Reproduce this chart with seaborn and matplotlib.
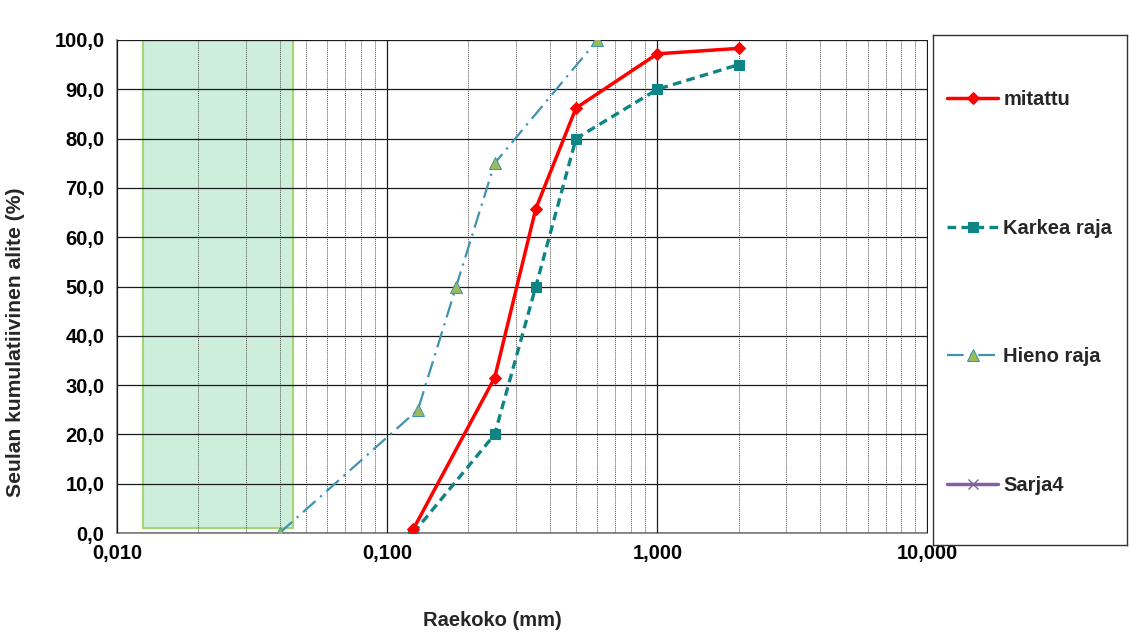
import numpy as np
import pandas as pd
import seaborn as sns
import matplotlib
matplotlib.use("Agg")
from matplotlib import pyplot as plt
from matplotlib.patches import Rectangle
from matplotlib.ticker import FixedLocator, LogLocator, NullFormatter

# data
mitattu_x = [0.125, 0.25, 0.355, 0.5, 1.0, 2.0]
mitattu_y = [0.8, 31.5, 65.8, 86.2, 97.2, 98.3]

karkea_x = [0.125, 0.25, 0.355, 0.5, 1.0, 2.0]
karkea_y = [0.0, 20.0, 50.0, 80.0, 90.0, 95.0]

hieno_x = [0.04, 0.13, 0.18, 0.25, 0.6]
hieno_y = [0.0, 25.0, 50.0, 75.0, 100.0]

labels = ["mitattu", "Karkea raja", "Hieno raja", "Sarja4"]
x_ticks = [0.01, 0.1, 1, 10]
y_ticks = [0, 10, 20, 30, 40, 50, 60, 70, 80, 90, 100]

# shaded zone
zone_x = [0.0125, 0.045]
zone_y = [1.0, 100.0]

FS = 14.5

sns.set_style("white")
plt.rcParams["font.family"] = ["Liberation Sans", "DejaVu Sans"]
plt.rcParams["font.weight"] = "bold"

fig = plt.figure(figsize=(11.31, 6.37), dpi=100)
ax = fig.add_axes([117 / 1131, 1 - 533 / 637, (927.5 - 117) / 1131, (533 - 40) / 637])

ax.add_patch(Rectangle((zone_x[0], zone_y[0]), zone_x[1] - zone_x[0], zone_y[1] - zone_y[0],
                       facecolor="#CDEEDB", edgecolor="#A3D772", lw=1.5, zorder=1))

df_m = pd.DataFrame({"x": mitattu_x, "y": mitattu_y})
df_k = pd.DataFrame({"x": karkea_x, "y": karkea_y})
df_h = pd.DataFrame({"x": hieno_x, "y": hieno_y})

sns.lineplot(data=df_m, x="x", y="y", ax=ax, sort=False, color="#FF0000", lw=2.5,
             marker="D", markersize=6.5, markeredgecolor="#FF0000", label=labels[0], zorder=5)
sns.lineplot(data=df_k, x="x", y="y", ax=ax, sort=False, color="#0E8585", lw=2.4,
             linestyle=(0, (2.6, 1.6)), marker="s", markersize=6.5,
             markeredgecolor="#0E8585", label=labels[1], zorder=4)
sns.lineplot(data=df_h, x="x", y="y", ax=ax, sort=False, color="#3F93AE", lw=1.6,
             linestyle=(0, (7.5, 2.8, 1, 2.8)), marker="^", markersize=8,
             markerfacecolor="#9BBB59", markeredgecolor="#3F93AE", label=labels[2], zorder=3)
ax.plot([], [], color="#8064A2", lw=2.5, marker="x", markersize=7, label=labels[3])

handles, labs = ax.get_legend_handles_labels()
if ax.get_legend() is not None:
    ax.get_legend().remove()

ax.set_xscale("log")
ax.set_xlim(0.01, 10)
ax.set_ylim(0, 100)
ax.xaxis.set_major_locator(FixedLocator(x_ticks))
ax.xaxis.set_minor_locator(LogLocator(base=10, subs=np.arange(2, 10)))
ax.xaxis.set_minor_formatter(NullFormatter())
ax.set_xticklabels([f"{v:.3f}".replace(".", ",") for v in x_ticks])
ax.set_yticks(y_ticks)
ax.set_yticklabels([f"{v:.1f}".replace(".", ",") for v in y_ticks])

ax.grid(True, which="major", axis="both", color="#1a1a1a", lw=0.9)
ax.grid(True, which="minor", axis="x", color="#555555", lw=0.7, linestyle=(0, (1, 1)))
ax.set_axisbelow(False)

for s in ["top", "right"]:
    ax.spines[s].set_visible(False)
for s in ["left", "bottom"]:
    ax.spines[s].set_color("#868686")
    ax.spines[s].set_linewidth(1.3)

ax.tick_params(axis="both", which="major", labelsize=FS, colors="#868686", labelcolor="black",
               length=5, width=1.2, direction="out")
ax.tick_params(axis="x", which="major", pad=3)
ax.tick_params(axis="y", which="major", pad=4)
ax.tick_params(axis="x", which="minor", length=0)
for t in ax.get_xticklabels() + ax.get_yticklabels():
    t.set_fontweight("bold")

ax.set_xlabel("")
ax.set_ylabel("Seulan kumulatiivinen alite (%)", fontsize=15.2, fontweight="bold")
ax.yaxis.set_label_coords((25 - 117) / 810.5, (533 - 342) / 493)
fig.text(492 / 1131, 1 - 620 / 637, "Raekoko (mm)", ha="center", va="center",
         fontsize=FS, fontweight="bold")

# legend in its own framed box
lax = fig.add_axes([933 / 1131, 1 - 545 / 637, (1127 - 933) / 1131, (545 - 35) / 637])
lax.set_xticks([])
lax.set_yticks([])
for s in lax.spines.values():
    s.set_color("#333333")
    s.set_linewidth(1.0)
lax.legend(handles, labs, loc="center left", frameon=False,
           prop={"weight": "bold", "size": FS}, labelspacing=5.45, handlelength=2.55,
           handletextpad=0.25, borderaxespad=0, borderpad=0.7,
           bbox_to_anchor=(0, 0.495))

plt.savefig("out.png", dpi=100)
